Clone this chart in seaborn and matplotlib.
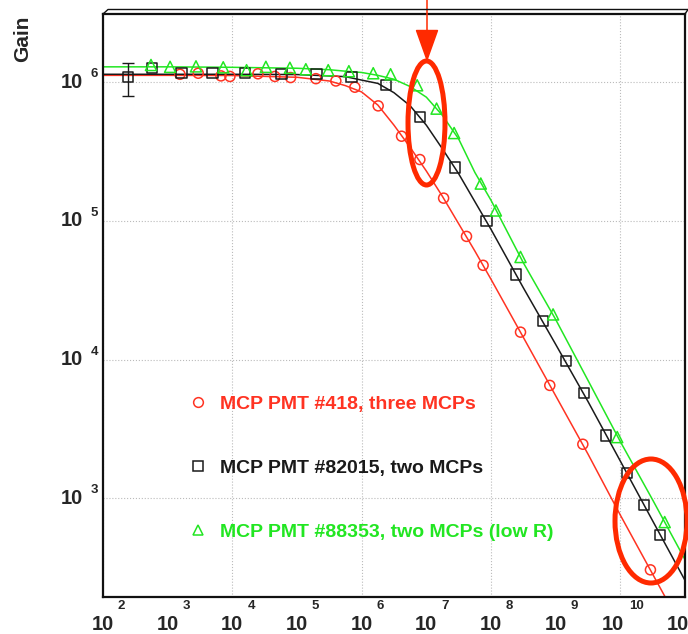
import numpy as np
import pandas as pd
import matplotlib
matplotlib.use('Agg')
import matplotlib.pyplot as plt
import matplotlib.transforms as mtransforms
from matplotlib.patches import Ellipse, FancyArrowPatch, ArrowStyle
from matplotlib.lines import Line2D
import seaborn as sns

# ---- data ----
# MCP PMT #418, three MCPs (red circles)
pmt418_x = [1550, 2970, 6670, 9180, 2.49e4, 4.55e4, 7.96e4, 1.96e5, 3.99e5, 7.85e5,
            1.80e6, 4.14e6, 7.94e6, 1.85e7, 4.18e7, 7.55e7, 2.86e8, 8.11e8, 2.63e9, 2.92e10]
pmt418_gain = [1.14e6, 1.16e6, 1.11e6, 1.10e6, 1.15e6, 1.10e6, 1.08e6, 1.06e6, 1.02e6, 9.2e5,
               6.75e5, 4.08e5, 2.77e5, 1.46e5, 7.74e4, 4.79e4, 1.58e4, 6.53e3, 2.46e3, 306]

# MCP PMT #82015, two MCPs (black squares)
pmt82015_x = [241, 578, 1640, 4960, 1.57e4, 5.78e4, 2.01e5, 6.98e5, 2.37e6, 7.94e6,
              2.76e7, 8.51e7, 2.41e8, 6.32e8, 1.43e9, 2.72e9, 6.05e9, 1.27e10, 2.32e10, 4.11e10]
pmt82015_gain = [1.09e6, 1.26e6, 1.16e6, 1.17e6, 1.17e6, 1.14e6, 1.14e6, 1.09e6, 9.5e5, 5.62e5,
                 2.43e5, 1.0e5, 4.12e4, 1.90e4, 9.78e3, 5.78e3, 2.85e3, 1.53e3, 895, 543]
pmt82015_err_lo = [3.0e5]
pmt82015_err_hi = [2.8e5]

# MCP PMT #88353, two MCPs (low R) (green triangles)
pmt88353_x = [552, 1090, 2740, 7230, 1.66e4, 3.30e4, 7.76e4, 1.37e5, 3.04e5, 6.34e5,
              1.51e6, 2.80e6, 7.21e6, 1.44e7, 2.69e7, 6.95e7, 1.19e8, 2.86e8, 9.12e8, 8.95e9, 4.85e10]
pmt88353_gain = [1.33e6, 1.29e6, 1.30e6, 1.28e6, 1.22e6, 1.29e6, 1.27e6, 1.24e6, 1.22e6, 1.20e6,
                 1.16e6, 1.14e6, 9.5e5, 6.45e5, 4.30e5, 1.86e5, 1.19e5, 5.50e4, 2.12e4, 2.77e3, 676]

# fitted curves, read at fixed x positions
curve_x = [1e2, 1e3, 1e4, 1e5, 3.16e5, 5.62e5, 1e6, 1.78e6, 3.16e6, 5.62e6, 1e7, 1.78e7, 3.16e7,
           5.62e7, 1e8, 3.16e8, 1e9, 3.16e9, 1e10, 3.16e10, 1e11]
curve418 = [1.12e6, 1.12e6, 1.117e6, 1.085e6, 1.02e6, 9.44e5, 8.5e5, 6.84e5, 4.9e5, 3.39e5, 2.29e5,
            1.5e5, 9.55e4, 6.08e4, 3.8e4, 1.45e4, 5.5e3, 2.09e3, 759, 285, 107]
curve82015 = [1.14e6, 1.14e6, 1.14e6, 1.135e6, 1.11e6, 1.096e6, 1.035e6, 9.8e5, 8.4e5, 6.76e5, 4.9e5,
              3.3e5, 2.19e5, 1.38e5, 8.7e4, 3.3e4, 1.29e4, 5.0e3, 1.86e3, 690, 257]
curve88353 = [1.29e6, 1.29e6, 1.28e6, 1.26e6, 1.23e6, 1.20e6, 1.175e6, 1.12e6, 1.05e6, 9.3e5, 7.8e5,
              5.75e5, 3.9e5, 2.24e5, 1.41e5, 5.0e4, 1.95e4, 7.1e3, 2.57e3, 977, 363]

labels = ['MCP PMT #418, three MCPs',
          'MCP PMT #82015, two MCPs',
          'MCP PMT #88353, two MCPs (low R)']
colors = ['#ff3322', '#1a1a1a', '#22e622']
markers = ['o', 's', '^']
sizes = [52, 56, 64]

sns.set_style('white')
plt.rcParams['font.family'] = ['Liberation Sans', 'DejaVu Sans']

fig = plt.figure(figsize=(6.88, 6.34), dpi=100)
ax = fig.add_axes([103 / 688, 37 / 634, 582 / 688, 583 / 634])

series = [(pmt418_x, pmt418_gain, curve418),
          (pmt82015_x, pmt82015_gain, curve82015),
          (pmt88353_x, pmt88353_gain, curve88353)]

handles = []
for (px, py, cy), lab, c, m, s in zip(series, labels, colors, markers, sizes):
    sns.lineplot(x=curve_x, y=cy, color=c, lw=1.1, ax=ax, sort=False,
                 estimator=None, zorder=2)
    sns.scatterplot(x=px, y=py, marker=m, s=s, facecolor='none', edgecolor=c,
                    linewidth=1.1, ax=ax, zorder=3)
    handles.append(Line2D([], [], ls='none', marker=m, markersize=7 if m != '^' else 7.5,
                          markerfacecolor='none', markeredgecolor=c, markeredgewidth=1.1))

ax.errorbar(pmt82015_x[:1], pmt82015_gain[:1], yerr=[pmt82015_err_lo, pmt82015_err_hi],
            fmt='none', ecolor=colors[1], elinewidth=1.0, capsize=4, capthick=1.0, zorder=3)

ax.set_xscale('log')
ax.set_yscale('log')
ax.set_xlim(1e2, 1e11)
ax.set_ylim(195, 3.1e6)

ax.grid(True, which='major', ls=':', color='#bbbbbb', lw=0.8)
ax.tick_params(which='both', direction='in', top=False, right=False,
               labelbottom=False, labelleft=False, color='#222222')
ax.tick_params(which='major', length=8, width=0.8)
ax.tick_params(which='minor', length=3.6, width=0.7)
ax.xaxis.set_minor_locator(matplotlib.ticker.LogLocator(base=10, subs=np.arange(2, 10), numticks=30))
ax.yaxis.set_minor_locator(matplotlib.ticker.LogLocator(base=10, subs=np.arange(2, 10), numticks=30))
for sp in ax.spines.values():
    sp.set_linewidth(1.6)
    sp.set_color('#111111')

# ROOT-like tick labels "10" with raised exponent
bx = mtransforms.blended_transform_factory(ax.transData, ax.transAxes)
by = mtransforms.blended_transform_factory(ax.transAxes, ax.transData)
k = 0.72  # px -> pt
for e in range(2, 12):
    base_dx = 0 if e < 10 else -7
    exp_dx = 15 if e < 10 else 9
    ax.annotate('10', xy=(10.0 ** e, 0), xycoords=bx, xytext=(base_dx * k, -27 * k),
                textcoords='offset points', ha='center', va='center', fontsize=14.5,
                fontweight='bold', annotation_clip=False)
    ax.annotate(str(e), xy=(10.0 ** e, 0), xycoords=bx, xytext=(exp_dx * k, -9 * k),
                textcoords='offset points', ha='left', va='center', fontsize=9.5,
                fontweight='bold', annotation_clip=False)
for e in range(3, 7):
    ax.annotate('10', xy=(0, 10.0 ** e), xycoords=by, xytext=(-20 * k, 0),
                textcoords='offset points', ha='right', va='center', fontsize=14.5,
                fontweight='bold', annotation_clip=False)
    ax.annotate(str(e), xy=(0, 10.0 ** e), xycoords=by, xytext=(-12 * k, 8 * k),
                textcoords='offset points', ha='left', va='center', fontsize=9.5,
                fontweight='bold', annotation_clip=False)

fig.text(22.5 / 688, 1 - 39 / 634, 'Gain', rotation=90, ha='center', va='center',
         fontsize=15, fontweight='bold')

leg = ax.legend(handles=handles, labels=labels, loc='upper left',
                bbox_to_anchor=((189 - 103) / 582, (597 - 395.5) / 583),
                frameon=False, prop={'weight': 'bold', 'size': 14},
                handlelength=0.93, handletextpad=0.67, labelspacing=2.39,
                borderpad=0, borderaxespad=0)
for t, c in zip(leg.get_texts(), colors):
    t.set_color(c)

# frame bevel (top and right)
fig.add_artist(Line2D([103 / 688, 108 / 688, 688 / 688], [1 - 14 / 634, 1 - 9.5 / 634, 1 - 9.5 / 634],
                      transform=fig.transFigure, color='#111111', lw=1.0))
fig.add_artist(Line2D([685 / 688, 688 / 688], [1 - 14 / 634, 1 - 9.5 / 634],
                      transform=fig.transFigure, color='#111111', lw=1.0))

# red highlight marks
red = '#ff2a00'
fig.add_artist(Ellipse((426.5 / 688, 1 - 123 / 634), 37 / 688, 124 / 634,
                       transform=fig.transFigure, fill=False, ec=red, lw=3.6))
fig.add_artist(Ellipse((651 / 688, 1 - 521 / 634), 72 / 688, 124 / 634,
                       transform=fig.transFigure, fill=False, ec=red, lw=3.6))
fig.add_artist(FancyArrowPatch((427 / 688, 1.01), (427 / 688, 1 - 62 / 634),
                               transform=fig.transFigure,
                               arrowstyle=ArrowStyle('-|>', head_length=2.1, head_width=0.75),
                               mutation_scale=10, color=red, lw=1.1,
                               shrinkA=0, shrinkB=0))

fig.savefig('out.png', dpi=100)
